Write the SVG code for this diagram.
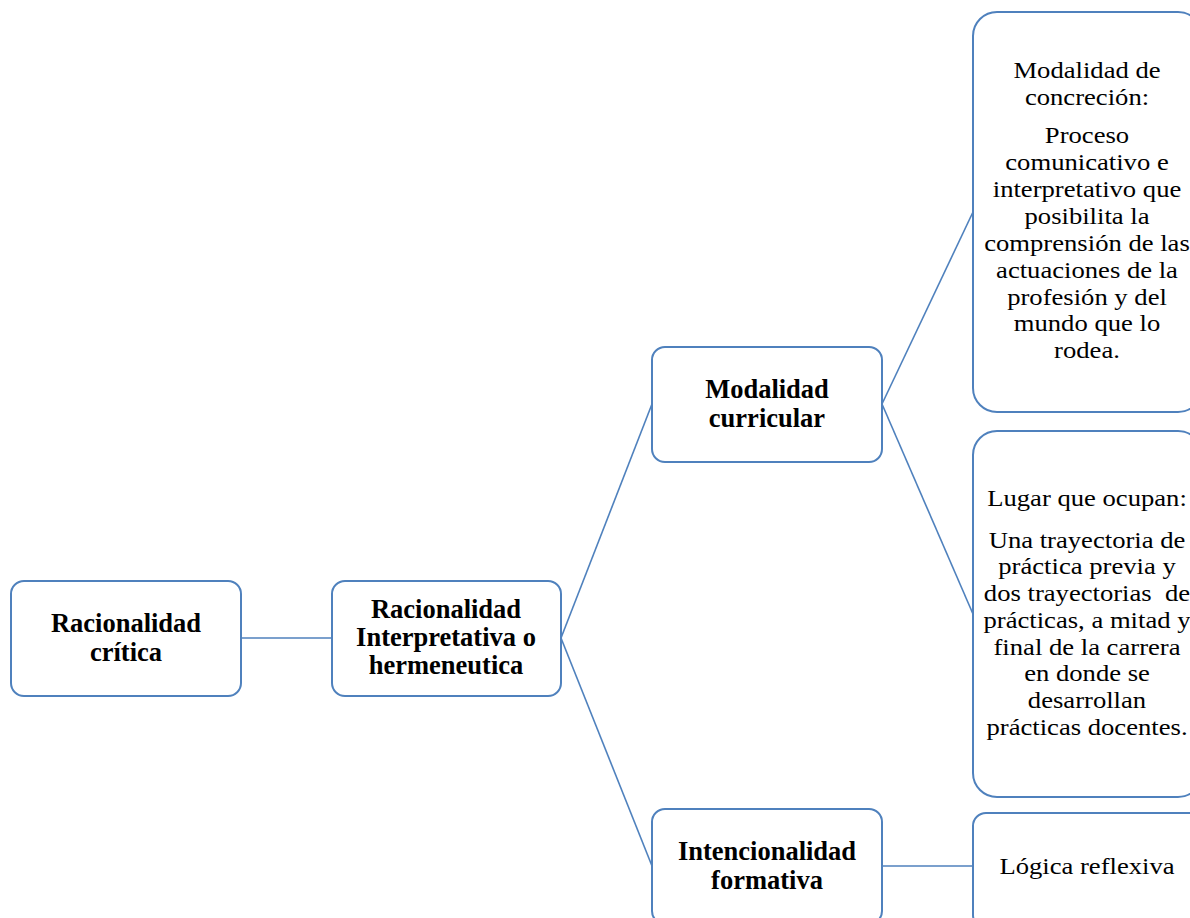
<svg xmlns="http://www.w3.org/2000/svg" width="1190" height="918" viewBox="0 0 1190 918">
  <style>
    .box { fill: #ffffff; stroke: #4f81bd; stroke-width: 2; }
    .link { stroke: #4f81bd; stroke-width: 1.6; fill: none; }
    .b { font-family: "Liberation Serif", "Times New Roman", serif; font-weight: bold; font-size: 26.5px; fill: #000; text-anchor: middle; }
    .r { font-family: "Liberation Serif", "Times New Roman", serif; font-size: 24px; fill: #000; text-anchor: middle; }
  </style>
  <rect width="1190" height="918" fill="#ffffff"/>

  <g id="connectors">
    <line class="link" x1="241" y1="638" x2="332" y2="638"/>
    <line class="link" x1="561" y1="638" x2="652" y2="404"/>
    <line class="link" x1="561" y1="638" x2="652" y2="866"/>
    <line class="link" x1="882" y1="404" x2="973" y2="212"/>
    <line class="link" x1="882" y1="404" x2="973" y2="614"/>
    <line class="link" x1="882" y1="866" x2="973" y2="866"/>
  </g>

  <g id="racionalidad-critica">
    <rect class="box" x="11" y="581" width="230" height="115" rx="13"/>
    <text class="b" x="126" y="632">Racionalidad</text>
    <text class="b" x="126" y="661">crítica</text>
  </g>

  <g id="racionalidad-interpretativa">
    <rect class="box" x="332" y="581" width="229" height="115" rx="13"/>
    <text class="b" x="446" y="618">Racionalidad</text>
    <text class="b" x="446" y="646">Interpretativa o</text>
    <text class="b" x="446" y="674">hermeneutica</text>
  </g>

  <g id="modalidad-curricular">
    <rect class="box" x="652" y="347" width="230" height="115" rx="13"/>
    <text class="b" x="767" y="398">Modalidad</text>
    <text class="b" x="767" y="427">curricular</text>
  </g>

  <g id="intencionalidad-formativa">
    <rect class="box" x="652" y="809" width="230" height="115" rx="13"/>
    <text class="b" x="767" y="860">Intencionalidad</text>
    <text class="b" x="767" y="889">formativa</text>
  </g>

  <!-- regular body text is set slightly wide: 24px type stretched horizontally -->
  <g id="modalidad-concrecion">
    <rect class="box" x="973" y="12" width="229" height="400" rx="24"/>
    <g transform="translate(1087,0) scale(1.11,1)">
      <text class="r" x="0" y="78">Modalidad de</text>
      <text class="r" x="0" y="105">concreción:</text>
      <text class="r" x="0" y="143">Proceso</text>
      <text class="r" x="0" y="170">comunicativo e</text>
      <text class="r" x="0" y="197">interpretativo que</text>
      <text class="r" x="0" y="224">posibilita la</text>
      <text class="r" x="0" y="251">comprensión de las</text>
      <text class="r" x="0" y="278">actuaciones de la</text>
      <text class="r" x="0" y="305">profesión y del</text>
      <text class="r" x="0" y="331">mundo que lo</text>
      <text class="r" x="0" y="358">rodea.</text>
    </g>
  </g>

  <g id="lugar-que-ocupan">
    <rect class="box" x="973" y="431" width="229" height="366" rx="24"/>
    <g transform="translate(1087,0) scale(1.11,1)">
      <text class="r" x="0" y="506">Lugar que ocupan:</text>
      <text class="r" x="0" y="548">Una trayectoria de</text>
      <text class="r" x="0" y="574">práctica previa y</text>
      <text class="r" x="0" y="601" xml:space="preserve">dos trayectorias  de</text>
      <text class="r" x="0" y="628">prácticas, a mitad y</text>
      <text class="r" x="0" y="655">final de la carrera</text>
      <text class="r" x="0" y="681">en donde se</text>
      <text class="r" x="0" y="708">desarrollan</text>
      <text class="r" x="0" y="735">prácticas docentes.</text>
    </g>
  </g>

  <g id="logica-reflexiva">
    <rect class="box" x="973" y="813" width="229" height="115" rx="13"/>
    <g transform="translate(1087,0) scale(1.11,1)">
      <text class="r" x="0" y="874">Lógica reflexiva</text>
    </g>
  </g>
</svg>
